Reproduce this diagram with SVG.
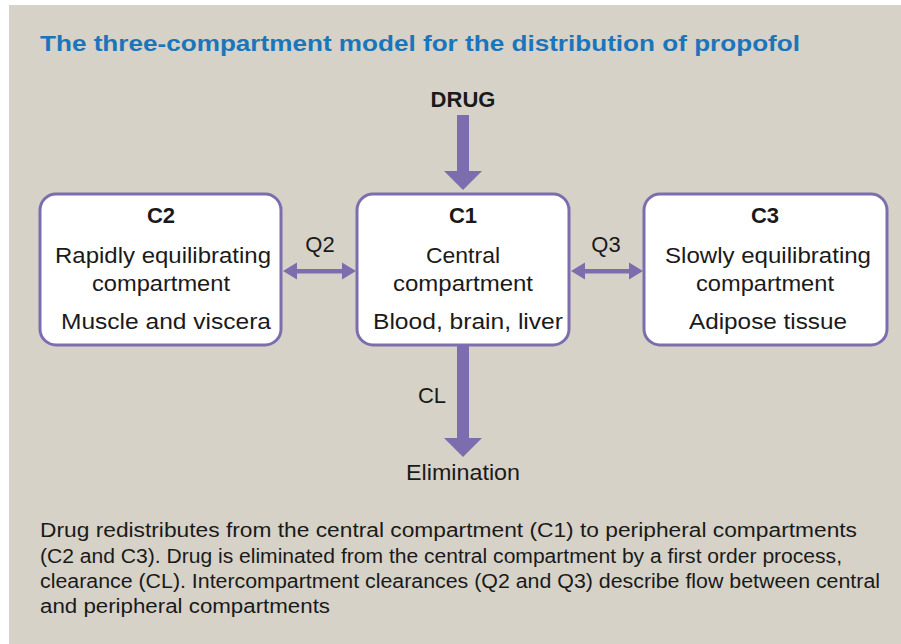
<svg xmlns="http://www.w3.org/2000/svg" width="901" height="644" viewBox="0 0 901 644">
<defs>
<style>
.bg{fill:#d6d2c8}
.box{fill:#ffffff;stroke:#7c6eae;stroke-width:3}
.t{font-family:"Liberation Sans",Arial,sans-serif;fill:#1a1a1a;font-size:22px;text-anchor:middle}
.b{font-weight:bold}
.title{font-family:"Liberation Sans",Arial,sans-serif;font-weight:bold;font-size:22px;fill:#1b75bb}
.cap{font-family:"Liberation Sans",Arial,sans-serif;font-size:20px;fill:#1a1a1a}
.arr{fill:#7c6eae}
</style>
</defs>
<rect class="bg" x="9" y="5" width="892" height="639"/>
<text class="title" x="40" y="51" textLength="760" lengthAdjust="spacingAndGlyphs">The three-compartment model for the distribution of propofol</text>
<g id="drug"><text class="t b" x="463" y="107" font-size="23">DRUG</text></g>
<g id="C2">
<rect class="box" x="40" y="194" width="241" height="151" rx="16"/>
<text class="t b" x="161" y="223">C2</text>
<text class="t" x="163" y="263" textLength="216" lengthAdjust="spacingAndGlyphs">Rapidly equilibrating</text>
<text class="t" x="161" y="291" textLength="138" lengthAdjust="spacingAndGlyphs">compartment</text>
<text class="t" x="166" y="329" textLength="210" lengthAdjust="spacingAndGlyphs">Muscle and viscera</text>
</g>
<g id="C1">
<rect class="box" x="357" y="194" width="212" height="151" rx="16"/>
<text class="t b" x="463" y="223">C1</text>
<text class="t" x="463" y="263" textLength="74" lengthAdjust="spacingAndGlyphs">Central</text>
<text class="t" x="463" y="291" textLength="140" lengthAdjust="spacingAndGlyphs">compartment</text>
<text class="t" x="468" y="329" textLength="190" lengthAdjust="spacingAndGlyphs">Blood, brain, liver</text>
</g>
<g id="C3">
<rect class="box" x="644" y="194" width="243" height="151" rx="16"/>
<text class="t b" x="765" y="223">C3</text>
<text class="t" x="768" y="263" textLength="206" lengthAdjust="spacingAndGlyphs">Slowly equilibrating</text>
<text class="t" x="765" y="291" textLength="138" lengthAdjust="spacingAndGlyphs">compartment</text>
<text class="t" x="768" y="329" textLength="158" lengthAdjust="spacingAndGlyphs">Adipose tissue</text>
</g>
<g id="elimination"><text class="t" x="463" y="480" textLength="114" lengthAdjust="spacingAndGlyphs">Elimination</text></g>
<g id="connectors">
<path class="arr" d="M457,115 H469 V171 H482 L463,190 L444,171 H457 Z"/>
<path class="arr" d="M457,346 H469 V438 H482 L463,457 L444,438 H457 Z"/>
<path class="arr" d="M283,271 L297,262.5 V269 H342 V262.5 L356,271 L342,279.5 V273.5 H297 V279.5 Z"/>
<path class="arr" d="M571,271 L585,262.5 V269 H629 V262.5 L643,271 L629,279.5 V273.5 H585 V279.5 Z"/>
<text class="t" x="320" y="252">Q2</text>
<text class="t" x="606" y="252">Q3</text>
<text class="t" x="432" y="403">CL</text>
</g>
<g id="caption">
<text class="cap" x="40" y="537" textLength="817" lengthAdjust="spacingAndGlyphs">Drug redistributes from the central compartment (C1) to peripheral compartments</text>
<text class="cap" x="40" y="563" textLength="802" lengthAdjust="spacingAndGlyphs">(C2 and C3). Drug is eliminated from the central compartment by a first order process,</text>
<text class="cap" x="40" y="588" textLength="840" lengthAdjust="spacingAndGlyphs">clearance (CL). Intercompartment clearances (Q2 and Q3) describe flow between central</text>
<text class="cap" x="40" y="613" textLength="290" lengthAdjust="spacingAndGlyphs">and peripheral compartments</text>
</g>
</svg>
